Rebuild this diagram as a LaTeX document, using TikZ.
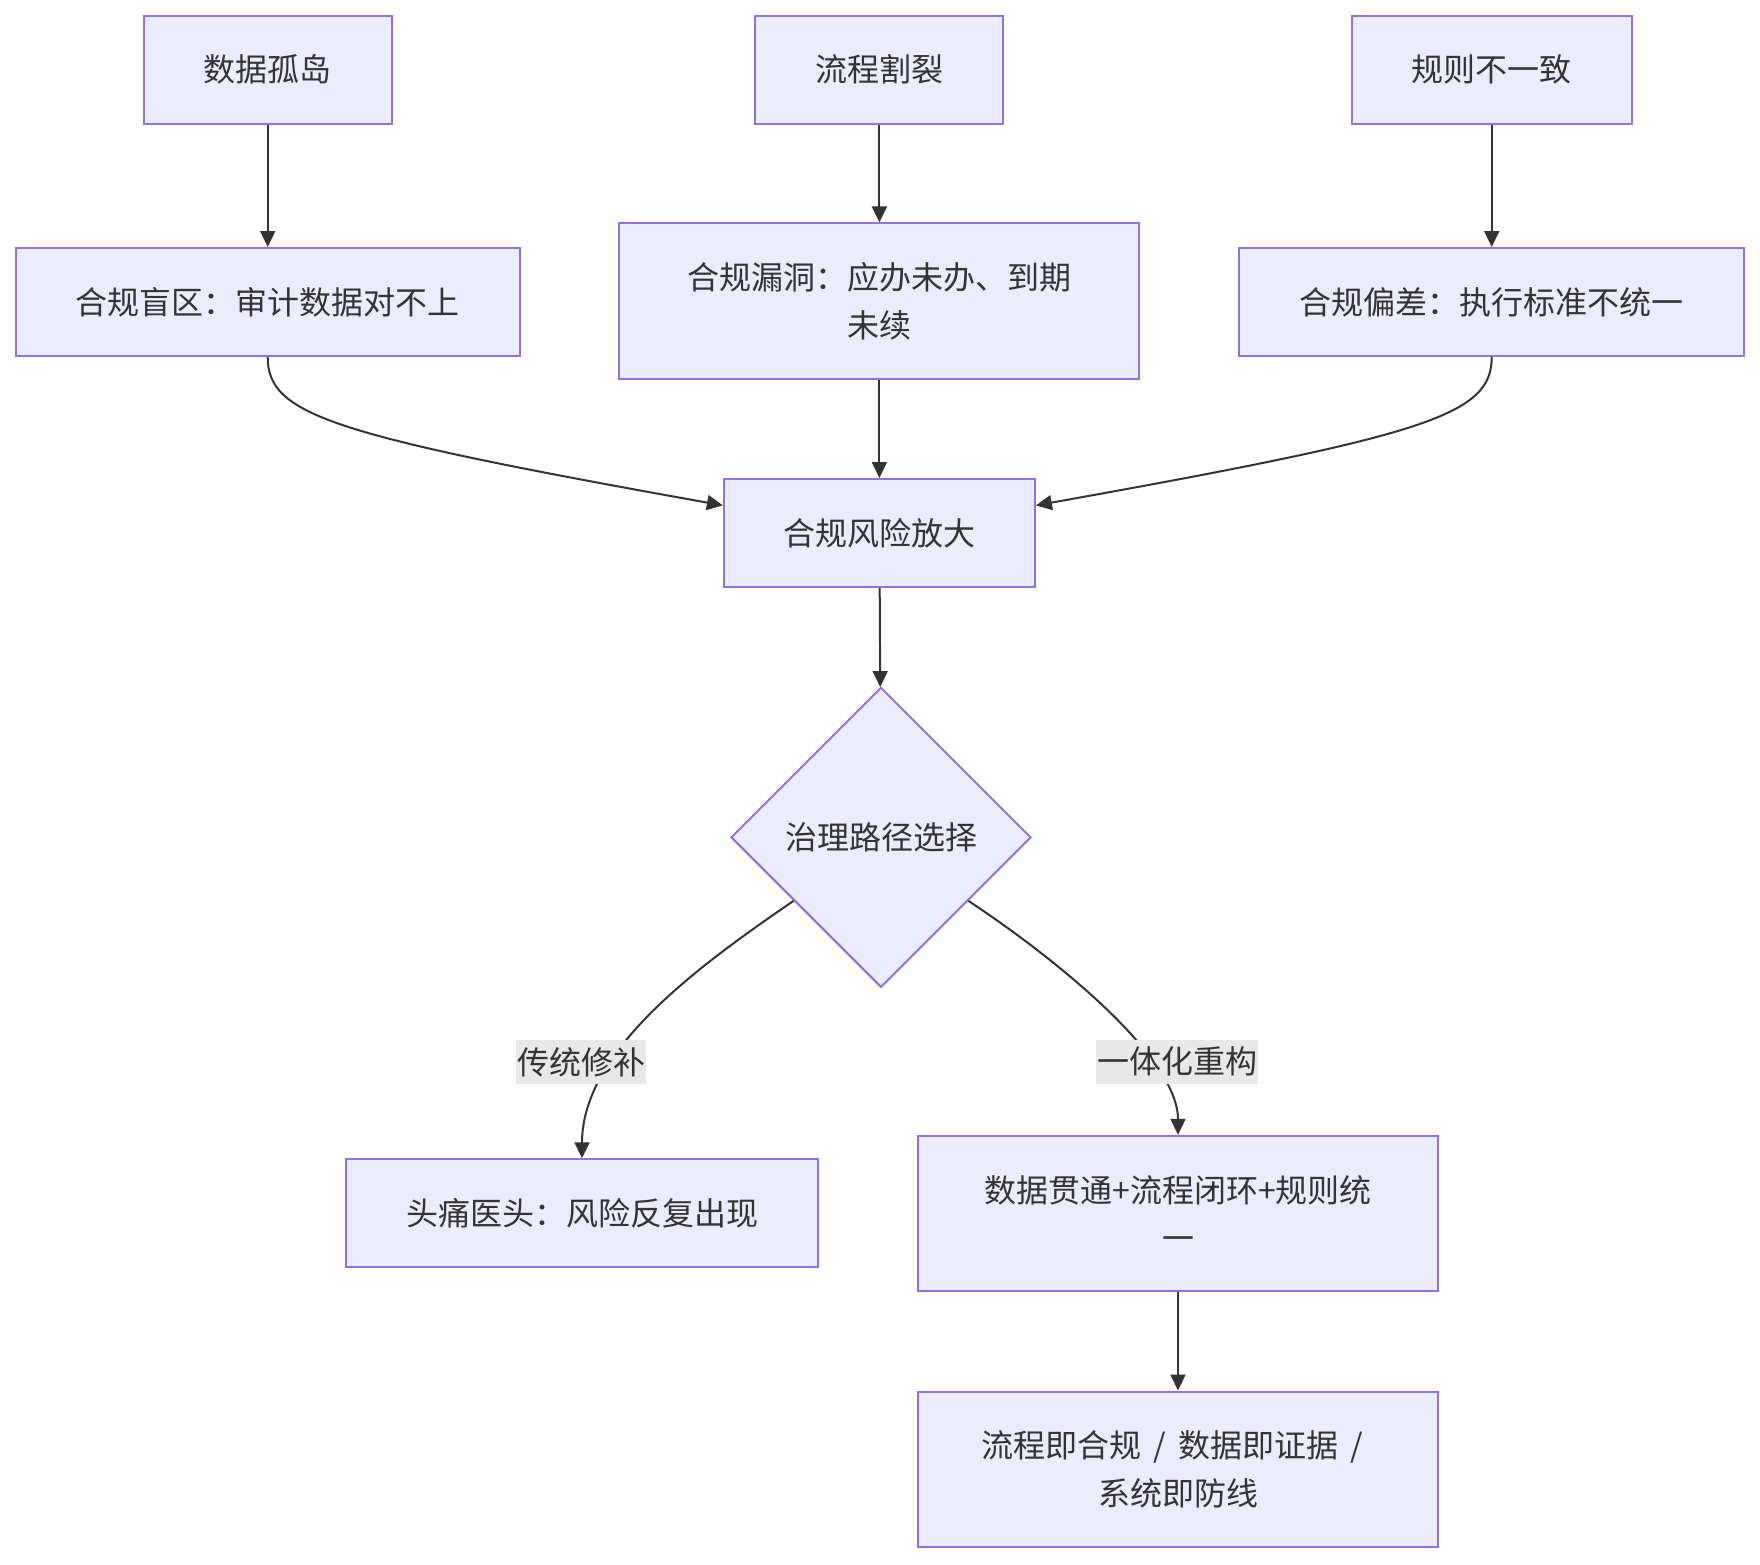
\documentclass[tikz,border=0pt]{standalone}
\usepackage{fontspec}
\setmainfont{Noto Sans CJK SC}
\usetikzlibrary{shapes.geometric,arrows.meta}

\definecolor{boxfill}{HTML}{ECECFF}
\definecolor{boxline}{HTML}{9370DB}
\definecolor{ink}{HTML}{333333}
\definecolor{lblfill}{HTML}{E8E8E8}

\tikzset{
  box/.style={draw=boxline, fill=boxfill, line width=1pt, text=ink, align=center,
    inner sep=0pt, minimum height=54pt},
  decide/.style={diamond, aspect=1, draw=boxline, fill=boxfill, line width=1pt, text=ink,
    inner sep=0pt, minimum width=150pt, minimum height=150pt},
  edgelbl/.style={fill=lblfill, text=ink, inner xsep=0.5pt, inner ysep=0pt, minimum height=22pt},
  flow/.style={draw=ink, line width=1pt, -{Triangle[length=8pt,width=7.5pt]}}
}
\newcommand{\gap}{\hspace{6pt}}

\begin{document}
\begin{tikzpicture}[x=0.5pt,y=-0.5pt,font=\fontsize{16pt}{24pt}\selectfont]
  \def\colL{267.7}
  \def\colM{879.4}
  \def\colR{1491.7}

  \useasboundingbox (0,0) rectangle (1760,1564);

  % Causes
  \node[box, minimum width=124pt] (silo) at (\colL,69.6) {数据孤岛};
  \node[box, minimum width=124pt] (split) at (\colM,69.6) {流程割裂};
  \node[box, minimum width=140pt] (rules) at (\colR,69.6) {规则不一致};

  % Effects
  \node[box, minimum width=252pt] (blind) at (\colL,302) {合规盲区：审计数据对不上};
  \node[box, minimum width=260pt, minimum height=78pt] (hole) at (\colM,301.4) {合规漏洞：应办未办、到期\\未续};
  \node[box, minimum width=252.5pt] (drift) at (\colR,302) {合规偏差：执行标准不统一};

  \node[box, minimum width=155.5pt] (risk) at (\colM,533) {合规风险放大};
  \node[decide] (choice) at (881,837.3) {治理路径选择};

  % Outcomes
  \node[box, minimum width=236pt] (patch) at (582,1213.3) {头痛医头：风险反复出现};
  \node[box, minimum width=260pt, minimum height=77.5pt] (rebuild) at (1178,1213.3) {数据贯通+流程闭环+规则统\\一};
  \node[box, minimum width=260pt, minimum height=77.5pt] (final) at (1178,1469) {流程即合规\gap{}/\gap{}数据即证据\gap{}/\gap\mbox{}\\系统即防线};

  % Edges
  \draw[flow] (silo) -- (blind);
  \draw[flow] (split) -- (hole);
  \draw[flow] (rules) -- (drift);
  \draw[flow] (hole) -- (risk);
  \draw[flow] (blind.south) .. controls (267.7,415) and (330,435) .. (risk.170);
  \draw[flow] (drift.south) .. controls (1491.7,415) and (1429,435) .. (risk.10);
  \draw[flow] (risk) -- (choice);
  \draw[flow] (choice.216) .. controls (700,965) and (582,1050) .. (patch.north);
  \draw[flow] (choice.-36) .. controls (1065,965) and (1178,1060) .. (rebuild.north);
  \draw[flow] (rebuild) -- (final);

  % Edge labels
  \node[edgelbl] (lblpatch) at (581.4,1061.8) {传统修补};
  \node[edgelbl] (lblrebuild) at (1177.4,1061.8) {一体化重构};
\end{tikzpicture}
\end{document}
